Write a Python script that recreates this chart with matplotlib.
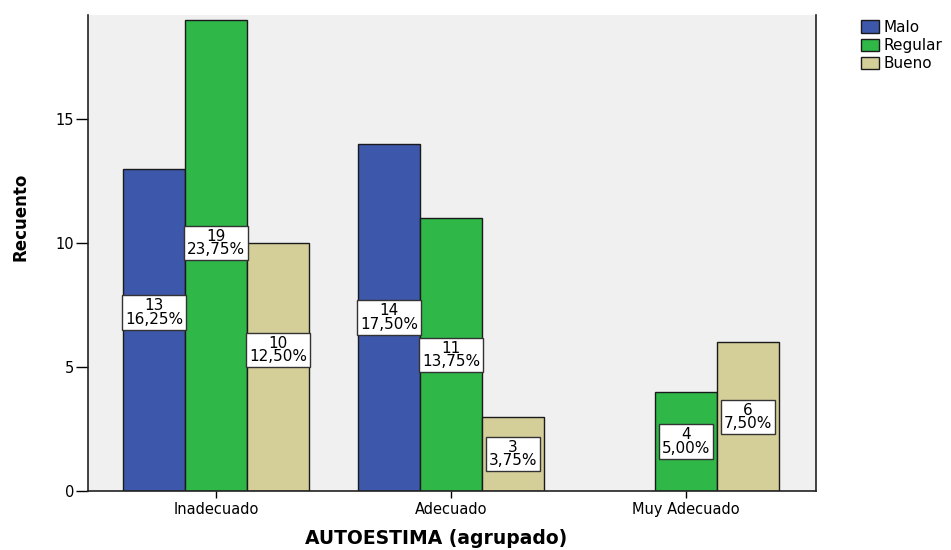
import numpy as np
import matplotlib.pyplot as plt

# Datos del grafico
categorias = ['Inadecuado', 'Adecuado', 'Muy Adecuado']
series = ['Malo', 'Regular', 'Bueno']
malo = [13, 14, 0]
regular = [19, 11, 4]
bueno = [10, 3, 6]
total = 80

colores = ['#3d57aa', '#2fb748', '#d4ce98']
fondo = '#f0f0f0'

# desplazamiento (en recuento) de las etiquetas respecto al centro de la barra
despl = [[0.7, 0.0, 0.0],
         [0.5, 0.0, 0.0],
         [0.7, 0.0, 0.0]]

fig = plt.figure(figsize=(9.51, 5.5), dpi=100)
ax = fig.add_axes([0.0925, 0.107, 0.7655, 0.866])
ax.set_facecolor(fondo)

x = np.arange(len(categorias))
ancho = 0.264
datos = [malo, regular, bueno]

for i, (nombre, vals) in enumerate(zip(series, datos)):
    pos = x + (i - 1) * ancho
    vals = np.array(vals)
    mask = vals > 0
    ax.bar(pos[mask], vals[mask], width=ancho, color=colores[i],
           edgecolor='#1a1a1a', linewidth=1.0, label=nombre, zorder=2)
    for j in np.where(mask)[0]:
        v = vals[j]
        texto = f'{v}\n{100 * v / total:.2f}%'.replace('.', ',')
        ax.text(pos[j], v / 2 + despl[i][j], texto, ha='center', va='center',
                fontsize=11, linespacing=0.85, zorder=4,
                bbox=dict(boxstyle='square,pad=0.2', facecolor='white',
                          edgecolor='#333333', linewidth=1.0))

ax.set_xlim(-0.545, 2.553)
ax.set_ylim(0, 19.2)
ax.set_yticks([0, 5, 10, 15])
ax.set_xticks(x)
ax.set_xticklabels(categorias)
ax.tick_params(axis='y', direction='out', length=9, width=1, labelsize=10.5, pad=1)
ax.tick_params(axis='x', direction='out', length=5, width=1, labelsize=10.5, pad=3)

for lado in ['left', 'bottom', 'right']:
    ax.spines[lado].set_color('#222222')
    ax.spines[lado].set_linewidth(1.2)
ax.spines['top'].set_visible(False)

ax.set_ylabel('Recuento', fontsize=12, fontweight='bold')
ax.yaxis.set_label_coords(-0.080, 0.575)
ax.set_xlabel('AUTOESTIMA (agrupado)', fontsize=13.5, fontweight='bold')
ax.xaxis.set_label_coords(0.478, -0.080)

ax.legend(loc='upper left', bbox_to_anchor=(1.047, 1.012), frameon=False,
          fontsize=11, handlelength=1.2, handleheight=0.85, handletextpad=0.3,
          labelspacing=0.2, borderpad=0.2)

fig.savefig('out.png', dpi=100, facecolor='white')
